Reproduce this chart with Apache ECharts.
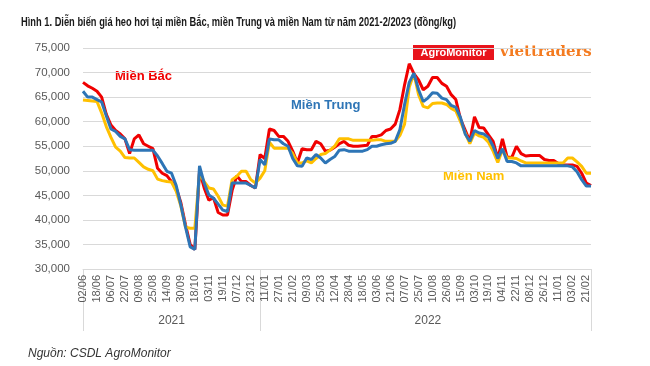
<!DOCTYPE html>
<html>
<head>
<meta charset="utf-8">
<script src="https://cdn.jsdelivr.net/npm/echarts@6/dist/echarts.min.js"></script>
<style>
html,body{margin:0;padding:0;background:#fff;}
#c{width:650px;height:366px;}
</style>
</head>
<body>
<div id="c"></div>
<script>
// Tick labels on the date axis (one every 3 data points)
const tickLabels = ["02/06","18/06","06/07","22/07","09/08","25/08","14/09","30/09","18/10","03/11","19/11","07/12","23/12",
  "11/01","27/01","21/02","09/03","25/03","12/04","28/04","18/05","03/06","21/06","07/07","25/07","10/08","26/08","15/09",
  "03/10","19/10","04/11","22/11","08/12","26/12","11/01","03/02","21/02"];
const pointsPerTick = 3;
const years = ["2021", "2022"];
const yearStartIndex = [0, 38];

// Prices (đồng/kg)
const mienBac = [68000,67300,66800,66200,65000,61500,59300,58200,57500,56500,
 53500,56500,57300,55500,55000,54500,50500,49500,49000,47800,
 46500,43500,39000,35000,34000,50000,46500,44000,44500,41500,
 41000,41000,46000,49000,47800,47800,47000,46500,53300,52500,
 58500,58200,57000,57000,56000,54000,51600,54500,54300,54300,
 56000,55500,54000,54200,54800,55500,56000,55200,55000,55000,
 55100,55200,57000,57000,57300,58200,58500,59500,62500,67500,
 71800,69800,68500,66500,67200,69000,69000,67800,67200,65500,
 64500,60500,58300,56000,61000,58800,58700,57300,56000,52500,
 56500,52800,52700,55000,53500,53000,53100,53100,53100,52300,
 52100,52100,51500,51200,51200,51200,50900,49500,47500,47000];
const mienTrung = [66200,65000,65000,64500,64000,61200,58500,58000,57000,56500,
 54300,54200,54200,54200,54200,54200,53000,51500,49900,49500,
 47000,43000,38500,34500,34000,51000,47500,45100,44400,43200,
 42000,41700,47500,47500,47500,47500,47000,46500,52300,51200,
 56500,56300,56300,55500,55000,52500,51000,50900,52600,52300,
 53300,52600,51600,52300,52900,54200,54300,54000,54000,54000,
 54000,54300,55000,55000,55300,55500,55600,56000,58400,63500,
 68000,69900,66500,64100,64800,65900,65800,64800,64500,63300,
 62900,60800,57500,56000,58200,57700,57500,56800,55000,52500,
 54500,51900,51900,51600,51000,51000,51000,51000,51000,51000,
 51000,51000,51000,51000,51000,50800,49800,48200,46900,46900];
const mienNam = [64400,64300,64200,64100,61800,59000,56800,54800,54000,52700,
 52600,52600,51700,50800,50300,50000,48300,48000,47800,47700,
 45800,42800,38500,38300,38300,49500,47800,46500,46300,44800,
 43000,42800,48200,48900,49900,49900,48200,47500,48500,50000,
 55800,54600,54600,54600,54600,53500,51600,51600,52000,51600,
 52500,53300,53500,54200,55000,56500,56500,56500,56200,56200,
 56200,56200,56200,56300,56300,56000,56000,56000,57200,59500,
 67000,69800,65500,63100,62800,63700,63800,63800,63500,62700,
 62200,60000,57700,55500,57700,57100,56800,55800,54000,51700,
 54300,52600,52600,52500,52000,51600,51600,51600,51600,51600,
 51600,51600,51600,51600,52600,52600,51800,50900,49500,49500];

const n = mienBac.length;
const cats = mienBac.map((_, i) => i);
const lastIdx = n - 1;
const yearEnds = yearStartIndex.map((s, k) => k + 1 < yearStartIndex.length ? yearStartIndex[k + 1] : lastIdx);
const yearCenters = yearStartIndex.map((s, k) => Math.round((s + yearEnds[k]) / 2));
const boundaries = yearStartIndex.concat([lastIdx]);

const FONT = '"Liberation Sans", Arial, sans-serif';
const chart = echarts.init(document.getElementById('c'), null, {renderer: 'canvas'});
chart.setOption({
  animation: false,
  backgroundColor: '#ffffff',
  title: [{
    text: 'Nguồn: CSDL AgroMonitor',
    left: 23, top: 343,
    textStyle: {fontFamily: FONT, fontSize: 12, fontStyle: 'italic', fontWeight: 'normal', color: '#333333'}
  }],
  grid: {left: 83, right: 59, top: 48, bottom: 97, containLabel: false},
  xAxis: [{
    type: 'category', data: cats, boundaryGap: false, position: 'bottom',
    axisLine: {show: true, lineStyle: {color: '#d9d9d9', width: 1}},
    axisTick: {show: false},
    axisLabel: {
      rotate: 90, margin: 6, fontSize: 11, color: '#595959', fontFamily: FONT,
      interval: (i) => i % pointsPerTick === 0,
      formatter: (v, i) => (i % pointsPerTick === 0 ? tickLabels[i / pointsPerTick] || '' : '')
    },
    splitLine: {show: false}
  }, {
    type: 'category', data: cats, boundaryGap: false, position: 'bottom', offset: 0,
    axisLine: {show: false},
    axisTick: {show: true, length: 62, lineStyle: {color: '#d9d9d9', width: 1},
      interval: (i) => boundaries.indexOf(i) >= 0},
    axisLabel: {
      margin: 46, fontSize: 12, color: '#595959', fontFamily: FONT,
      interval: (i) => yearCenters.indexOf(i) >= 0,
      formatter: (v, i) => { const k = yearCenters.indexOf(i); return k >= 0 ? years[k] : ''; }
    },
    splitLine: {show: false}
  }],
  yAxis: {
    type: 'value', min: 30000, max: 75000, interval: 5000,
    axisLine: {show: false}, axisTick: {show: false},
    axisLabel: {margin: 13, fontSize: 11.5, color: '#595959', fontFamily: FONT,
      formatter: (v) => v.toLocaleString('en-US')},
    splitLine: {lineStyle: {color: '#d9d9d9', width: 1}}
  },
  series: [
    {name: 'Miền Bắc', type: 'line', data: mienBac, symbol: 'none', xAxisIndex: 0,
      lineStyle: {color: '#f00000', width: 3}, itemStyle: {color: '#f00000'}},
    {name: 'Miền Nam', type: 'line', data: mienNam, symbol: 'none', xAxisIndex: 0,
      lineStyle: {color: '#ffc000', width: 3}, itemStyle: {color: '#ffc000'}},
    {name: 'Miền Trung', type: 'line', data: mienTrung, symbol: 'none', xAxisIndex: 0,
      lineStyle: {color: '#2e75b6', width: 3}, itemStyle: {color: '#2e75b6'}}
  ],
  graphic: [
    {type: 'text', x: 21, y: 16, scaleX: 0.745, scaleY: 1,
      style: {text: 'Hình 1. Diễn biến giá heo hơi tại miền Bắc, miền Trung và miền Nam từ năm 2021-2/2023 (đồng/kg)',
        fill: '#1a1a1a', font: 'bold 12.5px ' + FONT}},
    {type: 'text', left: 115, top: 70, style: {text: 'Miền Bắc', fill: '#f00000', font: 'bold 13px ' + FONT}},
    {type: 'text', left: 291, top: 99, style: {text: 'Miền Trung', fill: '#2e75b6', font: 'bold 13px ' + FONT}},
    {type: 'text', left: 443, top: 170, style: {text: 'Miền Nam', fill: '#ffc000', font: 'bold 13px ' + FONT}},
    {type: 'rect', left: 413, top: 45, shape: {width: 81, height: 15}, style: {fill: '#e8141c'}},
    {type: 'text', x: 453.5, y: 52.5, style: {text: 'AgroMonitor', fill: '#ffffff', font: 'bold 11px ' + FONT, align: 'center', verticalAlign: 'middle'}},
    {type: 'text', x: 500, y: 52, style: {text: 'viettraders', fill: '#f47b20', font: 'bold 15px "DejaVu Serif", "Liberation Serif", serif', verticalAlign: 'middle'}}
  ]
});
</script>
</body>
</html>
